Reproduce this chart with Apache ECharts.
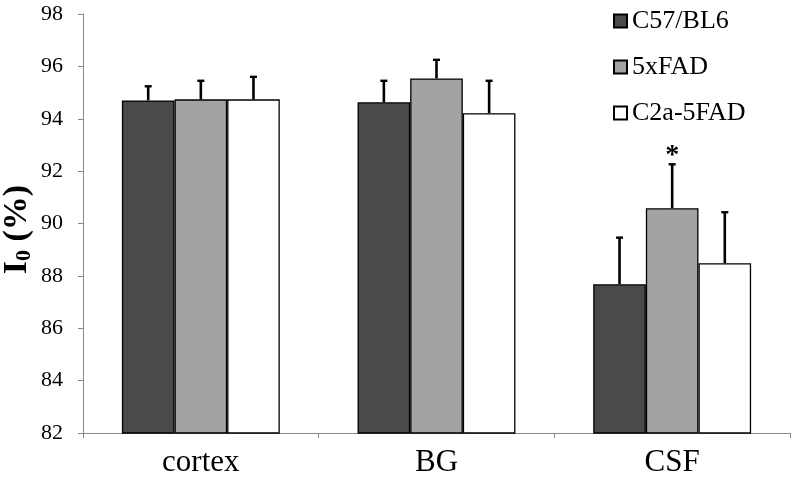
<!DOCTYPE html>
<html><head><meta charset="utf-8">
<script src="https://cdn.jsdelivr.net/npm/echarts@6/dist/echarts.min.js"></script>
<style>html,body{margin:0;padding:0;background:#fff}#c{width:796px;height:479px}</style>
</head><body><div id="c"></div>
<script>
const categories = ['cortex', 'BG', 'CSF'];
const seriesNames = ['C57/BL6', '5xFAD', 'C2a-5FAD'];
const c57 = [94.70, 94.63, 87.68];
const fad5x = [94.74, 95.54, 90.58];
const c2a = [94.74, 94.21, 88.48];
const c57Err = [0.54, 0.82, 1.78];
const fad5xErr = [0.71, 0.71, 1.68];
const c2aErr = [0.86, 1.24, 1.95];
const yTicks = [82, 84, 86, 88, 90, 92, 94, 96, 98];
// significance markers: [categoryIndex, seriesIndex, text]
const marks = [[2, 1, '*']];

const values = [c57, fad5x, c2a];
const errs = [c57Err, fad5xErr, c2aErr];
const colors = ['#4a4a4a', '#a3a3a3', '#ffffff'];
const gapRatio = 0.33;
const font = 'Liberation Serif';

const chart = echarts.init(document.getElementById('c'));

const barSeries = seriesNames.map((n, i) => ({
  name: n, type: 'bar', data: values[i], barGap: '0%', barCategoryGap: (gapRatio * 100) + '%',
  itemStyle: { color: colors[i], borderColor: '#000', borderWidth: 1.3 },
  emphasis: { disabled: true }, z: 2
}));

const errData = [];
values.forEach((arr, s) => arr.forEach((v, c) => errData.push([c, v, v + errs[s][c], s])));

const errSeries = {
  type: 'custom', name: 'err', silent: true, z: 5,
  data: errData,
  renderItem: function (params, api) {
    const c = api.value(0), s = api.value(3);
    const band = api.size([1, 0])[0];
    const bw = band * (1 - gapRatio) / 3;
    const base = api.coord([c, api.value(1)]);
    const top = api.coord([c, api.value(2)]);
    const x = base[0] + (s - 1) * bw;
    const capW = 3.5;
    return { type: 'group', children: [
      { type: 'line', shape: { x1: x, y1: base[1], x2: x, y2: top[1] }, style: { stroke: '#000', lineWidth: 2.6 } },
      { type: 'line', shape: { x1: x - capW, y1: top[1], x2: x + capW, y2: top[1] }, style: { stroke: '#000', lineWidth: 2.4 } }
    ]};
  }
};

const markData = marks.map(m => [m[0], values[m[1]][m[0]] + errs[m[1]][m[0]], m[1], m[2]]);
const markSeries = {
  type: 'custom', name: 'marks', silent: true, z: 6, data: markData,
  renderItem: function (params, api) {
    const c = api.value(0), s = api.value(2);
    const band = api.size([1, 0])[0];
    const bw = band * (1 - gapRatio) / 3;
    const p = api.coord([c, api.value(1)]);
    return { type: 'text', style: { x: p[0] + (s - 1) * bw, y: p[1] - 9, text: markData[params.dataIndex][3],
      font: 'bold 28px "' + font + '"', fill: '#000', align: 'center', verticalAlign: 'middle' } };
  }
};

chart.setOption({
  animation: false,
  grid: { left: 83, right: 6, top: 14, bottom: 46, containLabel: false, outerBoundsMode: 'none' },
  legend: {
    data: seriesNames, orient: 'vertical', left: 608, top: 2,
    itemWidth: 13, itemHeight: 13, itemGap: 18, icon: 'rect',
    textStyle: { fontFamily: font, fontSize: 26, color: '#000', lineHeight: 28 },
    selectedMode: false
  },
  xAxis: {
    type: 'category', data: categories,
    axisLine: { lineStyle: { color: '#888', width: 1 } },
    axisTick: { show: true, length: 5, inside: false, lineStyle: { color: '#888' } },
    axisLabel: { fontFamily: font, fontSize: 31, color: '#000', margin: 14 }
  },
  yAxis: {
    type: 'value', min: yTicks[0], max: yTicks[yTicks.length - 1], interval: 2,
    name: '{i|I}{s|0}{i| (%)}', nameLocation: 'middle', nameGap: 48, nameRotate: 90,
    nameMoveOverlap: false,
    nameTextStyle: { padding: [0, 12, 0, 0], rich: {
      i: { fontFamily: font, fontSize: 34, fontWeight: 'bold', color: '#000' },
      s: { fontFamily: font, fontSize: 22, fontWeight: 'bold', color: '#000', verticalAlign: 'bottom', padding: [14, 0, 0, 0] }
    } },
    splitLine: { show: false },
    axisLine: { show: true, lineStyle: { color: '#888', width: 1 } },
    axisTick: { show: true, length: 5, lineStyle: { color: '#888' } },
    axisLabel: { fontFamily: font, fontSize: 22, color: '#000', margin: 20 }
  },
  series: [...barSeries, errSeries, markSeries]
});
</script></body></html>
